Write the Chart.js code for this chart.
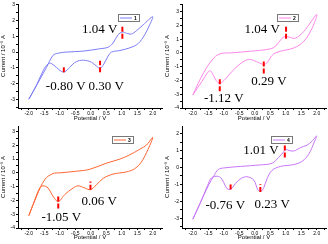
<!DOCTYPE html>
<html>
<head>
<meta charset="utf-8">
<script src="https://cdn.jsdelivr.net/npm/chart.js@4.4.1/dist/chart.umd.min.js"></script>
<style>
  body { margin: 0; background: #fff; }
  .cell { position: absolute; width: 164px; height: 122px; }
</style>
</head>
<body>
<div class="cell" style="left:0;top:0"><canvas id="c1" width="164" height="122"></canvas></div>
<div class="cell" style="left:164px;top:0"><canvas id="c2" width="164" height="122"></canvas></div>
<div class="cell" style="left:0;top:122px"><canvas id="c3" width="164" height="122"></canvas></div>
<div class="cell" style="left:164px;top:122px"><canvas id="c4" width="164" height="122"></canvas></div>
<script>
// sample 1
const pot1 = [-2.0,-1.65,-1.43,-1.22,-1.05,-0.78,-0.25,0.29,0.56,0.72,0.88,1.02,1.15,1.31,1.47,1.69,2.0,
  1.9,1.74,1.53,1.26,0.94,0.67,0.56,0.42,0.30,0.18,-0.03,-0.3,-0.52,-0.68,-0.84,-0.95,-1.11,-1.27,-1.38,-1.54,-1.75,-2.0];
const cur1 = [-3.0,-1.76,-0.98,-0.21,-0.07,0,0.06,0.21,0.31,0.58,1.1,1.27,1.2,1.15,1.35,1.73,2.25,
  1.73,1.1,0.54,0.27,0.1,0,-0.25,-0.77,-1.04,-0.88,-0.6,-0.52,-0.67,-0.98,-1.25,-1.23,-0.98,-0.73,-0.75,-1.19,-2.1,-3.0];
// sample 2
const pot2 = [-2.0,-1.65,-1.32,-1.1,-0.78,-0.14,0.5,0.67,0.88,1.0,1.15,1.31,1.58,2.0,
  1.85,1.58,1.26,0.83,0.61,0.5,0.4,0.29,0.13,-0.14,-0.35,-0.67,-0.95,-1.13,-1.24,-1.43,-1.52,-1.7,-2.0];
const cur2 = [-3.05,-1.43,-0.36,-0.05,0,0.12,0.29,0.48,1.07,1.19,1.12,1.07,1.55,2.79,
  1.79,0.83,0.36,0.12,-0.07,-0.36,-0.71,-0.83,-0.71,-0.48,-0.6,-1.19,-1.9,-2.21,-2.02,-1.3,-1.42,-2.05,-3.05];
// sample 3
const pot3 = [-2.0,-1.75,-1.48,-1.22,-1.0,-0.46,-0.03,0.5,0.94,1.26,1.58,1.8,2.0,
  1.85,1.63,1.42,1.15,0.72,0.4,0.18,-0.01,-0.19,-0.41,-0.57,-0.84,-1.05,-1.22,-1.38,-1.54,-1.65,-1.86,-2.0];
const cur3 = [-3.1,-1.69,-0.47,-0.05,0,0.12,0.26,0.7,1.0,1.31,1.71,2.02,2.58,
  1.71,0.77,0.3,0.07,-0.09,-0.4,-0.87,-1.22,-1.1,-0.94,-1.1,-1.57,-2.09,-1.69,-1.1,-0.94,-1.1,-2.28,-3.1];
// sample 4
const pot4 = [-2.0,-1.75,-1.48,-1.32,-1.18,-1.0,-0.46,0.18,0.56,0.77,0.92,0.99,1.08,1.2,1.31,1.47,1.69,1.85,2.0,
  1.91,1.74,1.53,1.26,0.83,0.56,0.4,0.29,0.2,0.1,-0.03,-0.25,-0.44,-0.62,-0.73,-0.8,-0.9,-1.0,-1.1,-1.25,-1.4,-1.52,-1.75,-2.0];
const cur4 = [-3.06,-2.05,-1.0,-0.5,-0.12,-0.03,0.06,0.15,0.25,0.59,0.9,1.07,1.02,0.97,1.0,1.17,1.32,1.55,1.87,
  1.45,0.78,0.36,0.17,0.06,-0.17,-0.65,-1.2,-1.41,-1.32,-0.75,-0.55,-0.65,-0.94,-1.22,-1.3,-1.25,-0.9,-0.6,-0.52,-0.62,-1.05,-2.07,-3.06];

// peak markers (potential, lower/upper current)
const markX1 = [1.02, -0.87, 0.30], markLo1 = [0.85, -1.29, -1.29], markHi1 = [1.69, -0.88, -0.56];
const markX2 = [1.01, -1.13, 0.29], markLo2 = [1.02, -2.79, -1.5], markHi2 = [2.02, -1.83, -0.6];
const markX3 = [-1.05, -0.01], markLo3 = [-2.58, -1.22], markHi3 = [-1.64, -0.63];
const markX4 = [0.97, -0.78, 0.18], markLo4 = [0.59, -1.3, -1.45], markHi4 = [1.36, -0.98, -1.0];

// peak labels
const peakText1 = ['1.04 V', '-0.80 V', '0.30 V'], peakTx1 = [0.29, -0.81, 0.5], peakTy1 = [1.42, -2.17, -2.17];
const peakText2 = ['1.04 V', '0.29 V', '-1.12 V'], peakTx2 = [0.24, 0.46, -1.0], peakTy2 = [1.67, -2.1, -3.33];
const peakText3 = ['-1.05 V', '0.06 V'], peakTx3 = [-0.95, 0.27], peakTy3 = [-3.26, -2.09];
const peakText4 = ['1.01 V', '-0.76 V', '0.23 V'], peakTx4 = [0.2, -0.95, 0.56], peakTy4 = [1.01, -2.28, -2.22];

const legendNames = ['1', '2', '3', '4'];
const colors = ['#7d7df6', '#ff86e8', '#ff6633', '#c776fa'];

const panels = [
  { id: 'c1', x: pot1, y: cur1, mx: markX1, ml: markLo1, mh: markHi1, pt: peakText1, px: peakTx1, py: peakTy1,
    ymin: -3.56, ymax: 3.06, padB: 0, axH: 14, legX: 100 },
  { id: 'c2', x: pot2, y: cur2, mx: markX2, ml: markLo2, mh: markHi2, pt: peakText2, px: peakTx2, py: peakTy2,
    ymin: -4.0, ymax: 3.55, padB: 0, axH: 14, legX: 95 },
  { id: 'c3', x: pot3, y: cur3, mx: markX3, ml: markLo3, mh: markHi3, pt: peakText3, px: peakTx3, py: peakTy3,
    ymin: -4.0, ymax: 3.4, padB: 3, axH: 13, legX: 94 },
  { id: 'c4', x: pot4, y: cur4, mx: markX4, ml: markLo4, mh: markHi4, pt: peakText4, px: peakTx4, py: peakTy4,
    ymin: -3.58, ymax: 2.45, padB: 3, axH: 13, legX: 89 },
];

const tickFont = { family: 'Liberation Sans, Arial, sans-serif', size: 5 };
const titleFont = { family: 'Liberation Sans, Arial, sans-serif', size: 6 };

panels.forEach((p, i) => {
  const datasets = [];
  p.mx.forEach((mx, k) => {
    datasets.push({
      data: [{ x: mx, y: p.ml[k] }, { x: mx, y: p.mh[k] }],
      borderColor: '#ff0000',
      borderWidth: 2,
      borderDash: [5, 2],
      showLine: true,
      pointRadius: 0,
      tension: 0,
    });
  });
  datasets.push({
    data: p.x.map((v, k) => ({ x: v, y: p.y[k] })),
    borderColor: colors[i],
    borderWidth: 1,
    showLine: true,
    pointRadius: 0,
    tension: 0.35,
  });

  const extras = {
    id: 'extras' + i,
    afterDatasetsDraw(chart) {
      const ctx = chart.ctx;
      const xs = chart.scales.x, ys = chart.scales.y;
      ctx.save();
      ctx.fillStyle = '#000';
      ctx.font = '13px "Liberation Serif", "Times New Roman", serif';
      ctx.textAlign = 'center';
      ctx.textBaseline = 'middle';
      p.pt.forEach((t, k) => {
        ctx.fillText(t, xs.getPixelForValue(p.px[k]), ys.getPixelForValue(p.py[k]));
      });
      // legend box
      const a = chart.chartArea;
      const lx = a.left + p.legX, ly = a.top + 10;
      ctx.fillStyle = '#fff';
      ctx.fillRect(lx, ly, 21, 7);
      ctx.strokeStyle = '#777';
      ctx.lineWidth = 1;
      ctx.strokeRect(lx + 0.5, ly + 0.5, 21, 7);
      ctx.strokeStyle = colors[i];
      ctx.beginPath();
      ctx.moveTo(lx + 2, ly + 4);
      ctx.lineTo(lx + 14, ly + 4);
      ctx.stroke();
      ctx.fillStyle = '#000';
      ctx.font = 'bold 5px "Liberation Sans", Arial, sans-serif';
      ctx.fillText(legendNames[i], lx + 17.5, ly + 4.5);
      ctx.restore();
    }
  };

  new Chart(document.getElementById(p.id), {
    type: 'scatter',
    data: { datasets },
    options: {
      responsive: false,
      animation: false,
      layout: { padding: { top: 2, right: 2, bottom: p.padB, left: 0 } },
      plugins: { legend: { display: false }, tooltip: { enabled: false } },
      scales: {
        x: {
          type: 'linear',
          min: -2.35, max: 2.3,
          afterFit: (s) => { s.height = p.axH; },
          border: { color: '#000', width: 1 },
          grid: { drawOnChartArea: false, tickLength: 2, tickColor: '#000' },
          ticks: {
            stepSize: 0.25, includeBounds: false, autoSkip: false, maxRotation: 0,
            padding: 1, color: '#000', font: tickFont,
            callback: (v) => (Math.abs(v * 2 - Math.round(v * 2)) < 1e-6 ? v.toFixed(1) : ''),
          },
          title: { display: true, text: 'Potential / V', color: '#000', font: titleFont, padding: 0 },
        },
        y: {
          type: 'linear',
          min: p.ymin, max: p.ymax,
          afterFit: (s) => { s.width = 18; },
          border: { color: '#000', width: 1 },
          grid: { drawOnChartArea: false, tickLength: 2, tickColor: '#000' },
          ticks: {
            stepSize: 0.5, includeBounds: false, autoSkip: false,
            padding: 1, color: '#000', font: tickFont,
            callback: (v) => (Math.abs(v - Math.round(v)) < 1e-6 ? String(Math.round(v)) : ''),
          },
          title: { display: true, text: 'Current / 10\u207B\u2075 A', color: '#000', font: titleFont, padding: 0 },
        },
      },
    },
    plugins: [extras],
  });
});
</script>
</body>
</html>
